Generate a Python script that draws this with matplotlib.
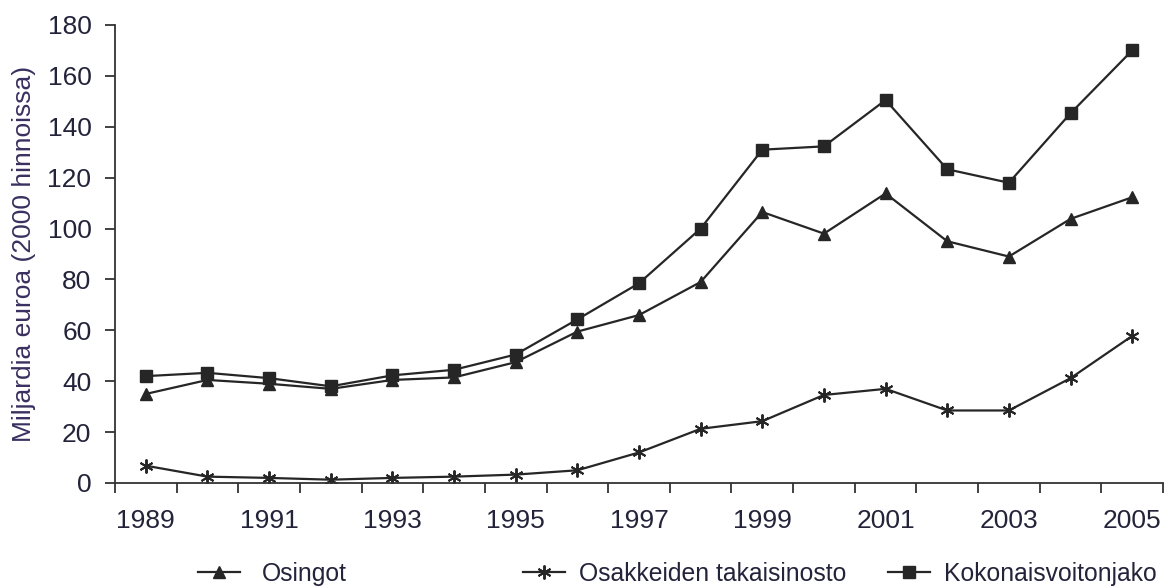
import matplotlib
matplotlib.use("Agg")
import matplotlib.pyplot as plt

years = list(range(1989, 2006))
osingot = [35, 40.5, 39, 37, 40.5, 41.5, 47.5, 59.5, 66, 79, 106.5, 98, 113.8, 95, 89, 103.8, 112.3]
takaisinosto = [6.8, 2.5, 2, 1.3, 2, 2.5, 3.3, 5, 12, 21.3, 24.3, 34.6, 37, 28.5, 28.5, 41.2, 57.8]
kokonais = [42, 43.3, 41.2, 38, 42.3, 44.5, 50.5, 64.3, 78.5, 100, 131, 132.3, 150.5, 123.3, 118, 145.3, 170]
label_years = [1989, 1991, 1993, 1995, 1997, 1999, 2001, 2003, 2005]
yticks = list(range(0, 181, 20))

plt.rcParams['font.family'] = ['Liberation Sans', 'DejaVu Sans']

fig = plt.figure(figsize=(11.65, 5.88), dpi=100)
ax = fig.add_axes([115/1165, 1-483/588, (1163-115)/1165, (483-25)/588])

x = list(range(len(years)))
lc = '#262626'
l1, = ax.plot(x, osingot, color=lc, lw=1.6, marker='^', ms=8, mfc=lc, mec=lc, label='Osingot')
l2, = ax.plot(x, takaisinosto, color=lc, lw=1.6, marker=(6, 2, 0), ms=10, mew=1.4, mec=lc, label='Osakkeiden takaisinosto')
l3, = ax.plot(x, kokonais, color=lc, lw=1.6, marker='s', ms=8, mfc=lc, mec=lc, label='Kokonaisvoitonjako')

ax.set_xlim(-0.5, len(years) - 0.5)
ax.set_ylim(0, 180)
ax.set_yticks(yticks)
ax.set_xticks([years.index(y) for y in label_years])
ax.set_xticklabels([str(y) for y in label_years])
ax.set_xticks([i - 0.5 for i in range(len(years) + 1)], minor=True)
ax.tick_params(axis='x', which='major', length=0, pad=19, labelsize=19, labelcolor='#23233a')
ax.tick_params(axis='x', which='minor', length=7, width=1.3, direction='out', color='#333333')
ax.tick_params(axis='y', length=7, width=1.3, direction='out', color='#333333', labelsize=19, labelcolor='#23233a', pad=10)
for s in ['top', 'right']:
    ax.spines[s].set_visible(False)
for s in ['left', 'bottom']:
    ax.spines[s].set_linewidth(1.3)
    ax.spines[s].set_color('#333333')

ax.set_ylabel('Miljardia euroa (2000 hinnoissa)', fontsize=19, color='#3a3060', labelpad=8)

for handle, xpos, tp in [(l1, 198/1165, 0.89), (l2, 523/1165, 0.57), (l3, 888/1165, 0.57)]:
    fig.legend(handles=[handle], loc='center left', bbox_to_anchor=(xpos, 1-574/588),
               frameon=False, fontsize=17.8, handlelength=1.7, handletextpad=tp,
               borderaxespad=0, borderpad=0, labelcolor='#23233a')

fig.savefig('out.png', dpi=100)
